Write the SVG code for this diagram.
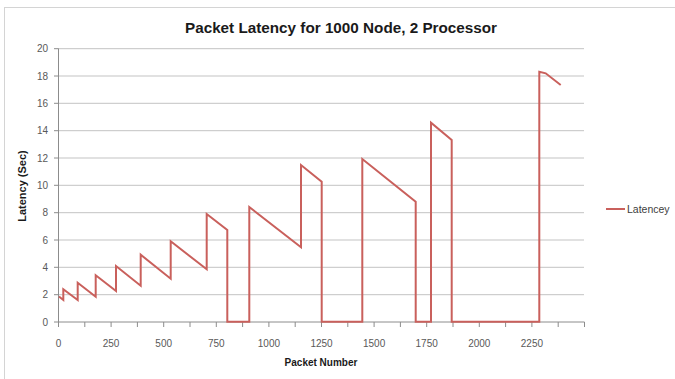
<svg xmlns="http://www.w3.org/2000/svg" width="675" height="379" viewBox="0 0 675 379">
<style>
.grid{stroke:#c3c3c3;stroke-width:1;fill:none}
.axis{stroke:#8c8c8c;stroke-width:1;fill:none}
.tick{font-family:"Liberation Sans",Arial,sans-serif;font-size:10px;fill:#595959}
.ttl{font-family:"Liberation Sans",Arial,sans-serif;font-weight:bold;fill:#1a1a1a}
.series{stroke:#c9605c;stroke-width:2;fill:none;stroke-linejoin:miter}
</style>
<rect x="0" y="0" width="675" height="379" fill="#ffffff"/>
<rect x="4.5" y="7.5" width="720" height="420" fill="none" stroke="#d4d4d4" stroke-width="1"/>
<g id="title">
<text class="ttl" x="341" y="33" font-size="14.5" text-anchor="middle" textLength="312" lengthAdjust="spacingAndGlyphs">Packet Latency for 1000 Node, 2 Processor</text>
</g>
<g id="gridlines">
<path class="grid" d="M58 48.7H584M58 76H584M58 103.3H584M58 130.7H584M58 158H584M58 185.3H584M58 212.7H584M58 240H584M58 267.3H584M58 294.7H584"/>
</g>
<g id="y-axis">
<path class="axis" d="M58.5 48.7V322M54 48.7H58.5M54 76H58.5M54 103.3H58.5M54 130.7H58.5M54 158H58.5M54 185.3H58.5M54 212.7H58.5M54 240H58.5M54 267.3H58.5M54 294.7H58.5M54 322H58.5"/>
<g class="tick" text-anchor="end">
<text x="48" y="52.3">20</text>
<text x="48" y="79.6">18</text>
<text x="48" y="106.9">16</text>
<text x="48" y="134.3">14</text>
<text x="48" y="161.6">12</text>
<text x="48" y="188.9">10</text>
<text x="48" y="216.3">8</text>
<text x="48" y="243.6">6</text>
<text x="48" y="270.9">4</text>
<text x="48" y="298.3">2</text>
<text x="48" y="325.6">0</text>
</g>
<text class="ttl" font-size="11" transform="translate(26 186) rotate(-90)" text-anchor="middle">Latency (Sec)</text>
</g>
<g id="x-axis">
<path class="axis" d="M58 322H584.5M58.5 322V327M84.8 322V327M111.1 322V327M137.4 322V327M163.7 322V327M190 322V327M216.3 322V327M242.6 322V327M268.9 322V327M295.2 322V327M321.5 322V327M347.8 322V327M374.1 322V327M400.4 322V327M426.7 322V327M453 322V327M479.3 322V327M505.6 322V327M531.9 322V327M558.2 322V327M584.5 322V327"/>
<g class="tick" text-anchor="middle">
<text x="58.5" y="347">0</text>
<text x="111.1" y="347">250</text>
<text x="163.7" y="347">500</text>
<text x="216.3" y="347">750</text>
<text x="268.9" y="347">1000</text>
<text x="321.5" y="347">1250</text>
<text x="374.1" y="347">1500</text>
<text x="426.7" y="347">1750</text>
<text x="479.3" y="347">2000</text>
<text x="531.9" y="347">2250</text>
</g>
<text class="ttl" font-size="10" x="321" y="366" text-anchor="middle">Packet Number</text>
</g>
<g id="connectors">
<polyline id="latencey-series" class="series" points="59,296.5 63.3,300 63.3,289.3 77.7,300 77.7,282.7 95.7,296.7 95.7,275.3 116,291 116,266 140.7,285.7 140.7,254.7 170.7,278.7 170.7,241.3 206.7,269.3 206.7,214 227.3,230 227.3,321.7 249.3,321.7 249.3,207 301,247.3 301,165 321.7,181.7 321.7,321.7 362.3,321.7 362.3,159 415.7,201.7 415.7,321.7 431,321.7 431,122.7 451.7,140 451.7,321.7 539.3,321.7 539.3,71.7 545.7,73.3 560.7,85"/>
</g>
<g id="legend">
<line x1="606" y1="209" x2="625" y2="209" class="series"/>
<text x="627" y="212.7" font-family="'Liberation Sans',Arial,sans-serif" font-size="10.5" fill="#404040">Latencey</text>
</g>
</svg>
